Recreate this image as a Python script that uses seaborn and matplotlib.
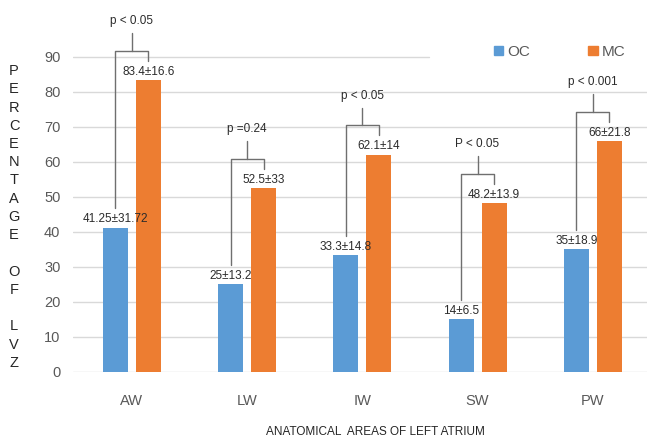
import numpy as np
import pandas as pd
import matplotlib
matplotlib.use("Agg")
import matplotlib.pyplot as plt
import seaborn as sns

# ── data ──────────────────────────────────────────────────────────────────────
areas = ["AW", "LW", "IW", "SW", "PW"]
oc_values = [41.25, 25, 33.3, 15, 35]
mc_values = [83.4, 52.5, 62.1, 48.2, 66]
oc_labels = ["41.25±31.72", "25±13.2", "33.3±14.8", "14±6.5", "35±18.9"]
mc_labels = ["83.4±16.6", "52.5±33", "62.1±14", "48.2±13.9", "66±21.8"]
p_labels = ["p < 0.05", "p =0.24", "p < 0.05", "P < 0.05", "p < 0.001"]
y_ticks = [0, 10, 20, 30, 40, 50, 60, 70, 80, 90]

df = pd.DataFrame({
    "area": areas * 2,
    "group": ["OC"] * len(areas) + ["MC"] * len(areas),
    "value": oc_values + mc_values,
})

sns.set_style("white")
plt.rcParams["font.family"] = ["Liberation Sans", "DejaVu Sans"]

blue, orange = "#5B9BD5", "#ED7D31"
grey_txt = "#595959"
dark_txt = "#2b2b2b"

fig = plt.figure(figsize=(6.47, 4.38), dpi=100)
ax = fig.add_axes([0.1128, 0.1507, 0.8872, 0.7991])

sns.barplot(data=df, x="area", y="value", hue="group", order=areas,
            hue_order=["OC", "MC"], palette=[blue, orange], saturation=1,
            width=0.572, gap=0.24, ax=ax, legend=False, errorbar=None,
            linewidth=0)

ax.set_xlim(-0.51, 4.47)
ax.set_ylim(0, 100)
ax.set_yticks(y_ticks)
for t in y_ticks:
    ax.axhline(t, xmax=(0.62 if t == 90 else 1.0), color="#d9d9d9", lw=1, zorder=0)
ax.set_axisbelow(True)
sns.despine(ax=ax, left=True, bottom=True, top=True, right=True)
ax.tick_params(axis="both", length=0, colors=grey_txt, labelsize=10.5)
ax.tick_params(axis="x", pad=16, labelsize=10.5)
ax.tick_params(axis="y", pad=9)
ax.set_xlabel("")
ax.set_ylabel("")

off = 0.143
line_kw = dict(color="#6f6f6f", lw=1, clip_on=False)
for i in range(len(areas)):
    b, m = oc_values[i], mc_values[i]
    ax.text(i - off, b + 2.4, oc_labels[i], ha="center", va="center",
            fontsize=8.5, color=dark_txt)
    ax.text(i + off, m + 2.4, mc_labels[i], ha="center", va="center",
            fontsize=8.5, color=dark_txt)
    top = m + 8.4
    ax.plot([i - off, i - off, i + off, i + off],
            [b + 5.5, top, top, m + 5.5], **line_kw)
    ax.plot([i, i], [top, top + 5], **line_kw)
    ax.text(i, top + 8.4, p_labels[i], ha="center", va="center",
            fontsize=8.5, color=dark_txt)

# stacked y-axis title letters
letters = list("PERCENTAGE") + [""] + list("OF") + [""] + list("LVZ")
y0, y1 = 71, 363
for k, ch in enumerate(letters):
    ypix = y0 + (y1 - y0) * k / (len(letters) - 1)
    fig.text(14 / 647, 1 - ypix / 438, ch, ha="center", va="center",
             fontsize=10.5, color="#262626")

fig.text(375 / 647, 1 - 432 / 438, "ANATOMICAL  AREAS OF LEFT ATRIUM",
         ha="center", va="center", fontsize=8.5, color="#262626")

handles = [plt.Rectangle((0, 0), 1, 1, color=blue),
           plt.Rectangle((0, 0), 1, 1, color=orange)]
leg = fig.legend(handles, ["OC", "MC"], loc="center left",
                 bbox_to_anchor=(480 / 647, 1 - 52 / 438), ncol=2,
                 frameon=False, handlelength=0.6, handleheight=0.6,
                 handletextpad=0.3, columnspacing=3.8, fontsize=11)
for t in leg.get_texts():
    t.set_color(grey_txt)

fig.savefig("out.png", dpi=100)
